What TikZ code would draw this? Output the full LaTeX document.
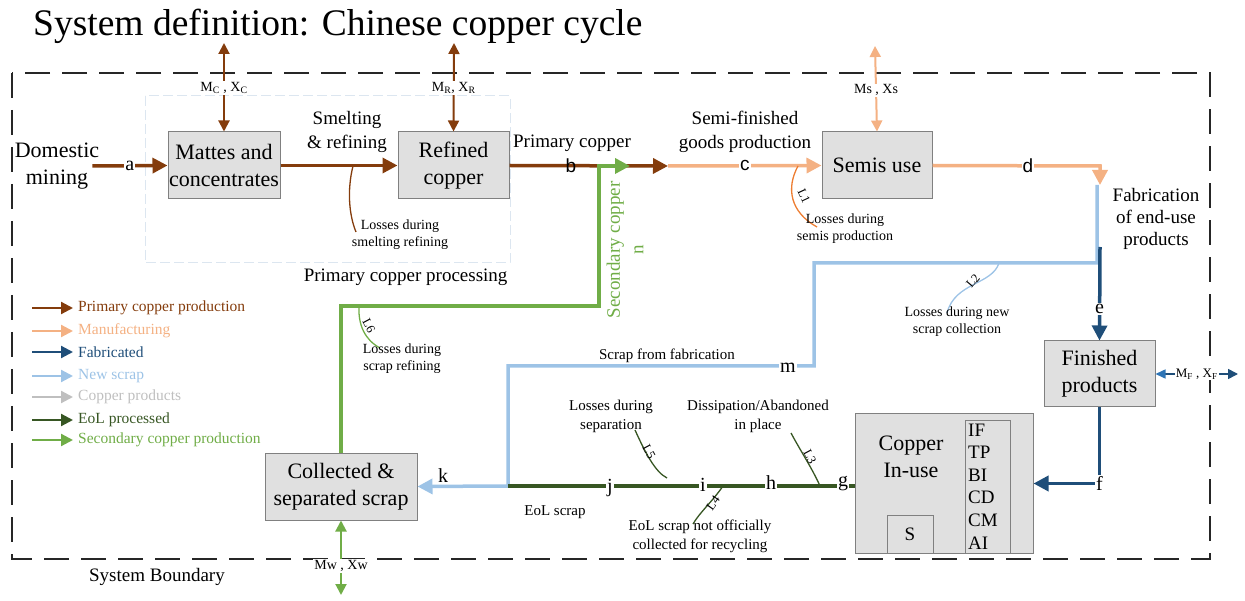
\documentclass[tikz,border=0pt]{standalone}
\usepackage{fontspec}
\setmainfont{Liberation Serif}
\newfontfamily\lsans{Liberation Sans}
\usetikzlibrary{arrows.meta}
\definecolor{cbrown}{HTML}{843C0C}
\definecolor{corange}{HTML}{F4B183}
\definecolor{cdorange}{HTML}{ED7D31}
\definecolor{cdblue}{HTML}{1F4E79}
\definecolor{cmblue}{HTML}{2E75B6}
\definecolor{clblue}{HTML}{9DC3E6}
\definecolor{cgray}{HTML}{BFBFBF}
\definecolor{cdgreen}{HTML}{375623}
\definecolor{cgreen}{HTML}{70AD47}
\definecolor{boxfill}{HTML}{E0E0E0}
\definecolor{boxline}{HTML}{808080}
\definecolor{procline}{HTML}{DCE6F0}
\begin{document}
\begin{tikzpicture}[x=1pt,y=-1pt,
  t22/.style={font=\fontsize{22}{27}\selectfont},
  t19/.style={font=\fontsize{19}{23.5}\selectfont},
  t16/.style={font=\fontsize{15.5}{19}\selectfont},
  t15/.style={font=\fontsize{15}{19}\selectfont},
  t14/.style={font=\fontsize{14}{17}\selectfont},
  t13/.style={font=\fontsize{13}{16}\selectfont},
  lossl/.style={font=\fontsize{12.5}{15}\selectfont, inner sep=0pt, text=black},
  box/.style={draw=boxline, fill=boxfill, line width=1pt, align=center, inner sep=0pt, t22},
  flow/.style={line width=3.5pt},
  tipL/.style={-{Triangle[length=15pt,width=15pt]}},
  both/.style={{Triangle[length=11pt,width=11pt]}-{Triangle[length=11pt,width=11pt]}, line width=2pt},
  loss/.style={line width=1.3pt},
  lab/.style={fill=white, inner sep=1pt, text=black, font=\fontsize{20}{24}\selectfont},
  labsans/.style={inner sep=1pt, text=black, font=\lsans\fontsize{19}{22}\selectfont},
  mlab/.style={fill=white, inner sep=1pt, text=black, t14}
]
\useasboundingbox (0,0) rectangle (1245,601);

% title
\node[anchor=base west, inner sep=0, font=\fontsize{37.5}{40}\selectfont] (title) at (33,36) {System definition: Chinese copper cycle};

% system boundary
\draw[line width=2pt, dash pattern=on 25pt off 12pt, black!85] (12,73) rectangle (1210,559);
\node[t19] (sysb) at (157,577) {System Boundary};

% primary processing area
\draw[draw=procline, line width=1pt, dash pattern=on 10pt off 4pt] (145,96) rectangle (510,263);
\node[t19, anchor=east] (ppl) at (511,277) {Primary copper processing};

% boxes
\node[box, minimum width=112pt, minimum height=67pt] (mat) at (224,165.5) {Mattes and\\concentrates};
\node[box, minimum width=111pt, minimum height=67pt] (ref) at (453.5,165.5) {Refined\\copper};
\node[box, minimum width=110pt, minimum height=67pt] (sem) at (877,165.5) {Semis use};
\node[box, minimum width=111pt, minimum height=66pt] (fin) at (1099.5,374) {Finished\\products};
\node[box, minimum width=178pt, minimum height=139pt] (inu) at (944,483.5) {};
\node[box, minimum width=45pt, minimum height=132pt] (lst) at (987.5,487) {};
\node[box, minimum width=46pt, minimum height=38pt, t19] (sbx) at (910,534) {S};
\node[box, minimum width=152pt, minimum height=67pt] (col) at (341,486.5) {Collected \&\\separated scrap};
\node[t22, align=center] (cin) at (911,457) {Copper\\In-use};
\foreach \t [count=\i] in {IF,TP,BI,CD,CM,AI}
  \node[t19, anchor=base west, inner sep=0] (it\i) at (968,{436+22.6*(\i-1)}) {\t};

% domestic mining
\node[t22, align=center, inner sep=0] (dom) at (57,166) {Domestic\\mining};
\draw[flow, cbrown, tipL] ([xshift=-7pt]dom.east) -- node[lab, pos=0.5] (la) {a} (mat.west);

% smelting
\draw[flow, cbrown, tipL] (mat.east) -- (ref.west);
\node[t19, align=center] (sml) at (347,132) {Smelting\\\& refining};
\coordinate (l0a) at (353,166);
\coordinate (l0b) at (356,232);
\draw[loss, cbrown] (l0a) .. controls (347,190) and (349,215) .. (l0b);
\node[t14, align=center] (l0t) at (400,235) {Losses during\\smelting refining};

% imports / exports
\coordinate (mct) at (224,43);
\draw[both, cbrown] (mat.north) -- node[mlab, pos=0.49] (mcl) {M\textsubscript{C} , X\textsubscript{C}} (mct);
\coordinate (mrt) at (454,43);
\draw[both, cbrown] (ref.north) -- node[mlab, pos=0.49] (mrl) {M\textsubscript{R}, X\textsubscript{R}} (mrt);
\coordinate (mst) at (875,46);
\draw[both, corange] (sem.north) -- node[mlab, pos=0.48] (msl) {Ms , Xs} (mst);

% refined -> semis
\coordinate (bc) at (668,166);
\draw[flow, cbrown, tipL] (ref.east) -- (bc);
\node[labsans] (lb) at (571,166) {b};
\node[t19] (pcl) at (572,143) {Primary copper};
\draw[flow, corange, tipL] (bc) -- node[lab, pos=0.5, font=\lsans\fontsize{19}{22}\selectfont] (lc) {c} (sem.west);
\node[t19, align=center] (sfg) at (745,132) {Semi-finished\\goods production};

% secondary copper
\coordinate (gn) at (630,166);
\coordinate (gc) at (599,306);
\draw[flow, cgreen, tipL] (col.north) |- (gc) |- (gn);
\node[t19, text=cgreen, rotate=90, align=center] (sct) at (625,250) {Secondary copper\\n};
\coordinate (l6a) at (359,306);
\coordinate (l6b) at (380,348);
\draw[loss, cgreen] (l6a) .. controls (358,325) and (365,340) .. (l6b);
\node[lossl, rotate=-62] (l6l) at (369,326) {L6};
\node[t14, align=center] (l6t) at (402,359) {Losses during\\scrap refining};

% L1
\coordinate (l1a) at (798,166);
\coordinate (l1b) at (817,227);
\draw[loss, cdorange] (l1a) .. controls (786,188) and (790,212) .. (l1b);
\node[lossl, rotate=-65] (l1l) at (804,196) {L1};
\node[t14, align=center] (l1t) at (845,229) {Losses during\\semis production};

% semis -> fabrication
\coordinate (fa) at (1100,185);
\coordinate (fc) at (1100,166);
\draw[flow, corange, tipL] (sem.east) -- (fc) -- (fa);
\node[labsans, fill=white] (ld) at (1028,166) {d};
\node[align=center, font=\fontsize{19}{22}\selectfont] (fab) at (1156,219) {Fabrication\\of end-use\\products};

% new scrap
\coordinate (ns0) at (1097,185);
\coordinate (ns1) at (1097,263);
\coordinate (ns2) at (814,263);
\coordinate (ns3) at (814,366);
\coordinate (ns4) at (508,366);
\coordinate (jk) at (508,486);
\draw[flow, clblue, tipL] (ns0) -- (ns1) -- (ns2) -- (ns3) -- (ns4) -- (jk) -- (col.east);
\node[lab] (lm) at (788,368) {m};
\node[t15] (sff) at (667,356) {Scrap from fabrication};
\node[lab, fill=none] (lk) at (443,476) {k};
\coordinate (l2a) at (999,263);
\coordinate (l2b) at (947,313);
\draw[loss, clblue] (l2a) .. controls (992,285) and (955,282) .. (l2b);
\node[lossl, rotate=50] (l2l) at (973,281) {L2};
\node[t14, align=center] (l2t) at (957,322) {Losses during new\\scrap collection};

% fabricated
\coordinate (db0) at (1100,247);
\draw[flow, cdblue, tipL] (db0) -- node[lab, pos=0.66] (le) {e} (fin.north);
\draw[flow, cdblue, tipL] (fin.south) |- node[lab, pos=0.5] (lf) {f} (inu.east);
\coordinate (mft) at (1238,374);
\draw[cdblue, line width=1.6pt, {Triangle[length=10pt,width=9pt,color=cmblue]}-{Triangle[length=10pt,width=10pt]}] (fin.east) -- node[fill=white, inner sep=1pt, text=black, t13] (mfl) {M\textsubscript{F} , X\textsubscript{F}} (mft);

% EoL
\draw[flow, cdgreen] (inu.west |- jk) -- (jk);
\node[lab] (lg) at (843,484) {g};
\node[lab] (lh) at (771,483) {h};
\node[lab] (li) at (703,485) {i};
\node[lab] (lj) at (610,488) {j};
\node[t15] (eol) at (555,512) {EoL scrap};
\coordinate (l3a) at (820,486);
\coordinate (l3b) at (791,433);
\draw[loss, cdgreen] (l3a) .. controls (812,468) and (800,450) .. (l3b);
\node[lossl, rotate=-62] (l3l) at (810,457) {L3};
\node[t15, align=center] (l3t) at (758,416) {Dissipation/Abandoned\\in place};
\coordinate (l4a) at (723,486);
\coordinate (l4b) at (693,524);
\draw[loss, cdgreen] (l4a) .. controls (712,502) and (700,512) .. (l4b);
\node[lossl, rotate=55] (l4l) at (713,503) {L4};
\node[t15, align=center] (l4t) at (700,536) {EoL scrap not officially\\collected for recycling};
\coordinate (l5a) at (635,430);
\coordinate (l5b) at (667,478);
\draw[loss, cdgreen] (l5a) .. controls (645,452) and (655,472) .. (l5b);
\node[lossl, rotate=-62] (l5l) at (649,452) {L5};
\node[t15, align=center] (l5t) at (611,416) {Losses during\\separation};

% waste import/export
\coordinate (mwb) at (341,595);
\draw[both, cgreen] (col.south) -- node[mlab, pos=0.61] (mwl) {Mw , Xw} (mwb);

% legend
\foreach \yy/\cc/\tt [count=\i] in {308/cbrown/Primary copper production, 331/corange/Manufacturing, 352/cdblue/Fabricated, 376/clblue/New scrap, 397/cgray/Copper products, 420/cdgreen/EoL processed, 440/cgreen/Secondary copper production} {
  \coordinate (lga\i) at (32,\yy);
  \coordinate (lgb\i) at (73,\yy);
  \draw[line width=2.2pt, \cc, -{Triangle[length=12pt,width=12pt]}] (lga\i) -- (lgb\i);
  \node[t16, text=\cc, anchor=west, inner sep=0] (lgt\i) at (78,\yy) {\tt};
}
\end{tikzpicture}
\end{document}
